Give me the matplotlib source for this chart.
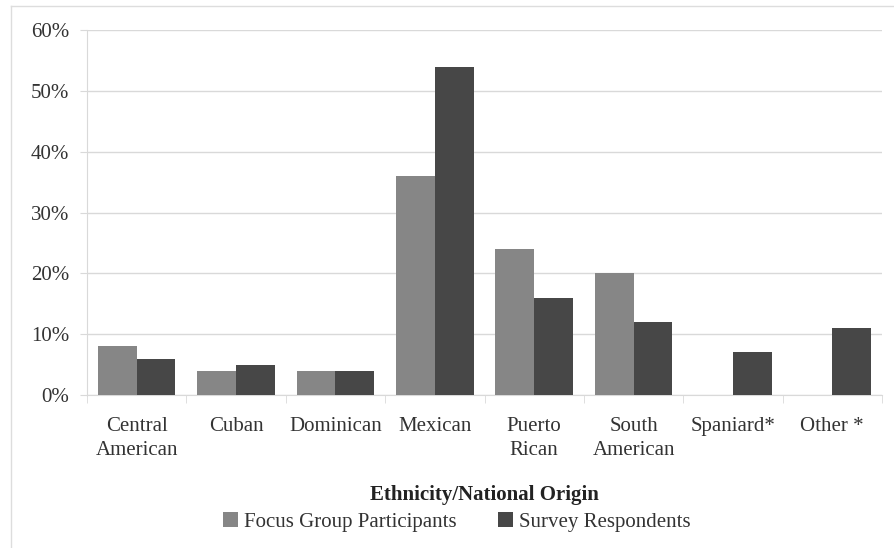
import numpy as np
import matplotlib.pyplot as plt
from matplotlib.lines import Line2D

# datos
categorias = ["Central\nAmerican", "Cuban", "Dominican", "Mexican",
              "Puerto\nRican", "South\nAmerican", "Spaniard*", "Other *"]
focus_group = [8, 4, 4, 36, 24, 20, 0, 0]
survey = [6, 5, 4, 54, 16, 12, 7, 11]
y_ticks = [0, 10, 20, 30, 40, 50, 60]

color_focus = "#868686"
color_survey = "#474747"
color_grid = "#d9d9d9"

plt.rcParams['font.family'] = ['Liberation Serif', 'DejaVu Serif']

fig = plt.figure(figsize=(8.94, 5.48), dpi=100)
ax = fig.add_axes([87 / 894, 1 - 395 / 548, (882 - 87) / 894, (395 - 30) / 548])

x = np.arange(len(categorias))
ancho = 0.39
ax.bar(x - ancho / 2, focus_group, ancho, color=color_focus, label="Focus Group Participants", zorder=3)
ax.bar(x + ancho / 2, survey, ancho, color=color_survey, label="Survey Respondents", zorder=3)

ax.set_xlim(-0.5, len(categorias) - 0.5)
ax.set_ylim(0, 60)
ax.set_yticks(y_ticks)
ax.set_yticklabels([f"{v}%" for v in y_ticks], fontsize=15, color="#333333")
ax.yaxis.grid(True, color=color_grid, linewidth=1, zorder=0)
ax.tick_params(axis="y", length=5, color=color_grid, pad=8)

ax.set_xticks(x)
ax.set_xticklabels(categorias, fontsize=15, color="#333333", linespacing=1.35)
ax.tick_params(axis="x", length=0, pad=16)
ax.set_xticks(np.arange(len(categorias) + 1) - 0.5, minor=True)
ax.tick_params(axis="x", which="minor", length=6, color=color_grid)

for s in ["top", "right"]:
    ax.spines[s].set_visible(False)
for s in ["left", "bottom"]:
    ax.spines[s].set_color(color_grid)

fig.text(484 / 894, 1 - 495 / 548, "Ethnicity/National Origin", ha="center", va="center",
         fontsize=15, fontweight="bold", color="#222222")

fig.legend(loc="center", bbox_to_anchor=(457 / 894, 1 - 522 / 548), ncol=2, frameon=False,
           fontsize=15, handlelength=0.7, handleheight=0.7, handletextpad=0.3, columnspacing=2.0,
           labelcolor="#333333")

# borde
fig.add_artist(Line2D([11 / 894, 11 / 894], [0, 1 - 6 / 548], transform=fig.transFigure, color="#dddddd", lw=1))
fig.add_artist(Line2D([11 / 894, 1], [1 - 6 / 548, 1 - 6 / 548], transform=fig.transFigure, color="#dddddd", lw=1))

fig.savefig("out.png", dpi=100)
